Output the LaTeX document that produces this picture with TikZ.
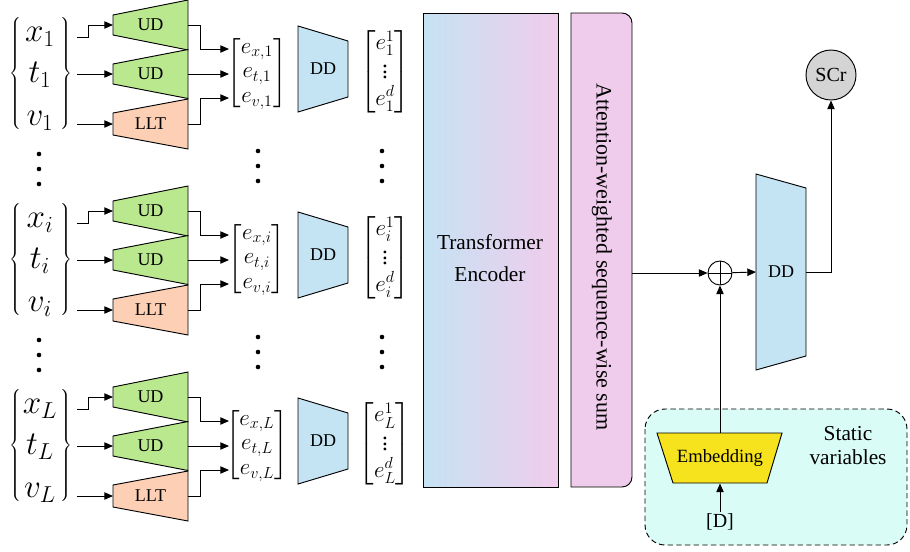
\documentclass[tikz,border=0pt]{standalone}
\usepackage{amsmath}
\usepackage{fontspec}
\setmainfont{Liberation Serif}
\usetikzlibrary{arrows.meta}

\definecolor{udgreen}{RGB}{185,232,142}
\definecolor{lltsalmon}{RGB}{253,208,182}
\definecolor{ddblue}{RGB}{196,228,244}
\definecolor{teblue}{RGB}{197,227,243}
\definecolor{tepink}{RGB}{240,204,236}
\definecolor{scrgray}{RGB}{212,212,212}
\definecolor{embyellow}{RGB}{246,227,30}
\definecolor{statcyan}{RGB}{218,252,246}

\tikzset{
  arr/.style={-{Triangle[length=6.5pt,width=5.5pt]}},
  box/.style={draw},
  ud/.style={box, fill=udgreen},
  llt/.style={box, fill=lltsalmon},
  dd/.style={box, fill=ddblue},
  lbl/.style={inner sep=0.75pt, font=\fontsize{13.5}{16}\selectfont},
  var/.style={inner sep=0.75pt, font=\fontsize{25}{30}\selectfont},
  emat/.style={inner sep=0.75pt, font=\fontsize{17.5}{18.5}\selectfont},
  % trapezoid block: style, left half height, right half height, width, label
  pics/trap/.style n args={5}{code={
    \draw[#1] (0,-#2) -- (#4,-#3) -- (#4,#3) -- (0,#2) -- cycle;
    \coordinate (-in) at (0,0);
    \coordinate (-out) at (#4,0);
    \node[lbl] (-txt) at (#4/2,0) {#5};
  }},
}

\begin{document}
\begin{tikzpicture}[x=0.75pt,y=0.75pt,yscale=-1,xscale=1,line width=0.7pt]
\useasboundingbox (0,0) rectangle (910,551);

%Per-step inputs, encoders and embeddings
\foreach \g/\o in {1/0, i/186, L/372}{
\begin{scope}[shift={(0,\o)}]
  % Text Node
  \node[var] (x\g) at (40,37) {$x_{\g}$};
  \node[var] (t\g) at (40,75) {$t_{\g}$};
  \node[var] (v\g) at (40,121) {$v_{\g}$};
  \node[inner sep=0] (lb\g) at (16,73) {$\left\{\vcenter{\hbox{\rule{0pt}{86pt}}}\right.$};
  \node[inner sep=0] (rb\g) at (66,73) {$\left.\vcenter{\hbox{\rule{0pt}{86pt}}}\right\}$};
  \coordinate (sx\g) at (77,37);
  \coordinate (st\g) at (77,74);
  \coordinate (sv\g) at (77,124);
  %Shape: Trapezoids
  \pic (ux\g) at (113,25) {trap={ud}{10}{25}{75}{UD}};
  \pic (ut\g) at (113,74) {trap={ud}{10}{24.5}{75}{UD}};
  \pic (lv\g) at (113,124) {trap={llt}{11}{25}{75}{LLT}};
  \draw[arr] (sx\g) -- ++(11,0) |- (ux\g-in);
  \draw[arr] (st\g) -- (ut\g-in);
  \draw[arr] (sv\g) -- (lv\g-in);
  % Text Node
  \node[emat] (e\g) at (257,73) {$\begin{bmatrix} e_{x,\g}\\ e_{t,\g}\\ e_{v,\g}\end{bmatrix}$};
  \coordinate (ex\g) at (229,49);
  \coordinate (et\g) at (229,74);
  \coordinate (ev\g) at (229,98);
  \draw[arr] (ux\g-out) -- ++(12,0) |- (ex\g);
  \draw[arr] (ut\g-out) -- (et\g);
  \draw[arr] (lv\g-out) -- ++(12,0) |- (ev\g);
  %Shape: DD
  \pic (dd\g) at (298,69) {trap={dd}{43}{28}{50}{DD}};
  % Text Node
  \node[emat] (h\g) at (385,72) {$\begin{bmatrix} e_{\g}^{1}\\ \vdots\\ e_{\g}^{d}\end{bmatrix}$};
\end{scope}
}

%Dots between the steps
\foreach \o in {0,186}{
  \foreach \y in {154,169,184} \fill (39,\y+\o) circle (2.3);
  \foreach \y in {151,166,181} {\fill (258,\y+\o) circle (2.3); \fill (382,\y+\o) circle (2.3);}
}

%Shape: Transformer encoder
\draw[box, left color=teblue, right color=tepink] (423,13) rectangle (558,487);
\node[align=center, font=\fontsize{16}{24}\selectfont] (te) at (490,258) {Transformer\\Encoder};

%Shape: Attention-weighted sum
\draw[box, fill=tepink] (571,487) -- (571,13) -- (622,13) arc[start angle=-90,end angle=0,radius=10] -- (632,477) arc[start angle=0,end angle=90,radius=10] -- cycle;
\node[rotate=-90, font=\fontsize{16.5}{18}\selectfont] (aws) at (602,257) {Attention-weighted sequence-wise sum};
\coordinate (awsout) at (632,273);

%Shape: Static variables
\draw[dash pattern=on 4pt off 2.5pt, fill=statcyan, rounded corners=15] (645,409) rectangle (907,545);
\node[align=center, font=\fontsize{16}{18}\selectfont] (stat) at (848,446) {Static\\variables};
\draw[box, fill=embyellow] (657,433) -- (782,433) -- (767,483) -- (673,483) -- cycle;
\node[inner sep=0.75pt, font=\fontsize{14}{16}\selectfont, minimum height=37.5pt] (emb) at (720,458) {Embedding};
\node[inner sep=0.75pt, font=\fontsize{15}{18}\selectfont] (dvar) at (720,522) {[D]};

%Sum and output head
\node[draw, circle, minimum size=18pt, inner sep=0] (sum) at (720,273) {};
\draw (sum.north) -- (sum.south) (sum.west) -- (sum.east);
\pic (ddo) at (756,272) {trap={dd}{98}{84}{50}{DD}};
\node[draw, circle, fill=scrgray, minimum size=37.5pt, inner sep=0, font=\fontsize{15}{16}\selectfont] (scr) at (831,75) {SCr};

\draw[arr] (awsout) -- (sum);
\draw[arr] (sum) -- (ddo-in);
\draw[arr] (ddo-out) -| (scr);
\draw[arr] (emb) -- (sum);
\draw[arr] (dvar) -- (emb);

\end{tikzpicture}
\end{document}
